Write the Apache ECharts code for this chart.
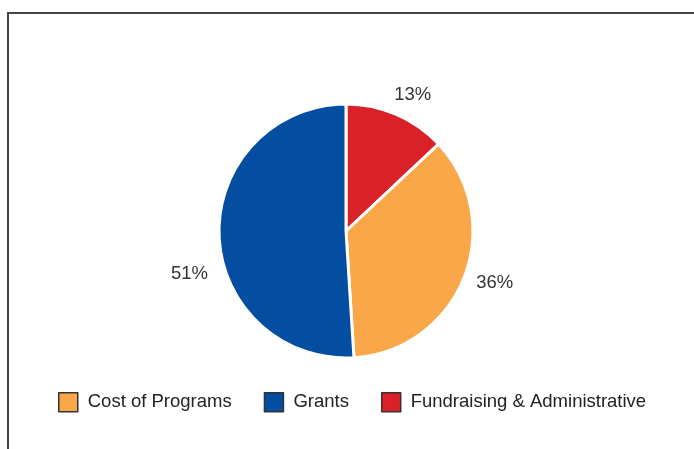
<!DOCTYPE html>
<html>
<head>
<meta charset="utf-8">
<script src="https://cdn.jsdelivr.net/npm/echarts@6/dist/echarts.min.js"></script>
<style>
html,body{margin:0;padding:0;background:#fff;}
#c{width:694px;height:449px;}
</style>
</head>
<body>
<div id="c"></div>
<script>
const categories = ['Cost of Programs', 'Grants', 'Fundraising & Administrative'];
const values = [36, 51, 13];
const colors = ['#FAA74A', '#044EA2', '#DA2128'];
// drawing order clockwise from 12 o'clock
const drawOrder = [2, 0, 1];
// label nudges (dx, dy) per category
const labelNudge = [[-4, 1], [6, 39], [-12, -9]];

const FONT = 'Liberation Sans, Arial, sans-serif';
const chart = echarts.init(document.getElementById('c'), null, {renderer: 'canvas'});
const pieData = drawOrder.map(i => ({
  name: categories[i],
  value: values[i],
  itemStyle: {color: colors[i]}
}));

chart.setOption({
  animation: false,
  textStyle: {fontFamily: FONT},
  graphic: [{
    type: 'polyline',
    shape: {points: [[8, 449], [8, 13], [694, 13]]},
    style: {stroke: '#444', lineWidth: 2, fill: null}
  }],
  legend: {
    data: categories,
    top: 387,
    left: 53,
    itemWidth: 19,
    itemHeight: 19,
    itemGap: 32,
    icon: 'rect',
    itemStyle: {borderColor: '#333', borderWidth: 1.5},
    textStyle: {fontSize: 18.5, color: '#222', fontFamily: FONT, padding: [0, 0, 0, 5]}
  },
  series: [{
    type: 'pie',
    center: [346, 231],
    radius: [0, 127],
    startAngle: 90,
    clockwise: true,
    avoidLabelOverlap: false,
    itemStyle: {borderColor: '#fff', borderWidth: 3},
    label: {
      show: true,
      position: 'outside',
      formatter: '{d}%',
      fontSize: 18.5,
      color: '#333',
      fontFamily: FONT
    },
    labelLine: {show: false, length: 12, length2: 0},
    labelLayout: function (p) {
      const idx = categories.indexOf(pieData[p.dataIndex].name);
      const n = labelNudge[idx];
      return {dx: n[0], dy: n[1]};
    },
    data: pieData
  }]
});
</script>
</body>
</html>
